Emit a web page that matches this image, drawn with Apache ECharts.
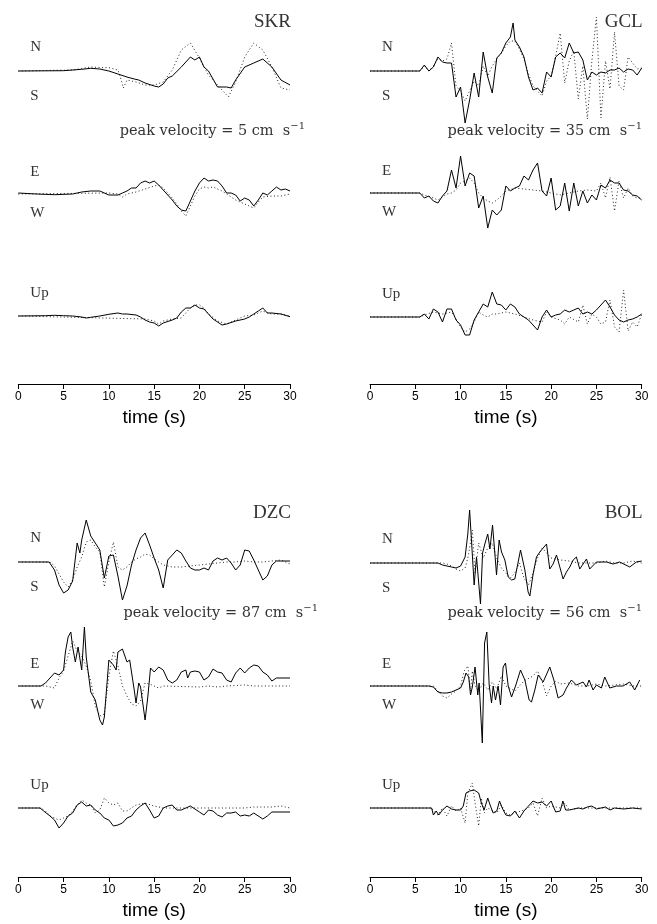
<!DOCTYPE html>
<html>
<head>
<meta charset="utf-8">
<script src="https://cdn.jsdelivr.net/npm/echarts@6/dist/echarts.min.js"></script>
<style>
  html, body { margin: 0; padding: 0; background: #fff; }
  #main { width: 657px; height: 924px; }
</style>
</head>
<body>
<div id="main"></div>
<script>
// time ticks (s)
var timeTicks = [0, 5, 10, 15, 20, 25, 30];
var stations = ['SKR', 'GCL', 'DZC', 'BOL'];
var peakVel = [5, 35, 87, 56];

// traces: [time (s), relative velocity], solid = data, dotted = synthetic
var skrNs = [[0,0],[5,0.3],[7,1.7],[8,2.7],[9,2],[10,0],[11,-3],[12,-6],[12.8,-8],[13,-7],[13.3,-9],[14,-12],[15,-15],[15.5,-16],[16,-13],[16.5,-7],[17,-5],[18,4],[19,14],[19.5,11],[20,14],[20.5,4],[21,0],[22,-16],[23,-16],[23.5,-17],[24,-9],[25,4],[26,8],[27,12],[28,4],[29,-9],[30,-14]];
var skrNsSyn = [[0,0],[6,1],[7,2.5],[8,4],[9,3.5],[10,3.3],[11,1],[11.4,-10],[11.6,-17],[12,-9],[13,-11],[14,-14],[15,-14],[16,-11],[17,1],[18,21],[19,28],[20,13],[20.5,4],[21,-4],[22,-14],[23.2,-26],[24,-11],[25,14],[26,28],[27,21],[28,4],[29,-17],[30,-19]];
var skrEw = [[0,1],[2,0],[4,-0.7],[6,0],[6.5,1],[7,2],[8,3],[9,3],[10,-1],[11,-1],[11.5,1],[12,3],[12.5,6],[13,6],[13.5,11],[14,13],[14.5,11],[15,13],[15.5,9],[16,4],[16.5,-1],[17,-6],[17.5,-12],[18,-16],[18.5,-17],[19,-7],[19.5,3],[20,11],[20.5,16],[21,13],[21.5,14],[22,13],[22.5,8],[23,1],[23.5,1],[24,-1],[24.5,-7],[25,-4],[25.5,-6],[26,-12],[26.5,-6],[27,1],[27.5,-1],[28,3],[28.5,7],[29,4],[29.5,5],[30,3]];
var skrEwSyn = [[0,0],[10,1],[11,0],[11.5,-3],[12,0],[13,2],[14,5],[15,8],[15.5,9],[16,6],[17,-4],[17.5,-10],[18,-17],[18.5,-22],[19,-12],[19.5,-2],[20,5],[20.5,7],[21,6],[21.5,7],[22,5],[22.5,3],[23,0],[24,-6],[25,-10],[25.5,-12],[26,-14],[26.5,-8],[27,-3],[28,-2],[29,-2],[30,0]];
var skrUp = [[0,0],[3,0.3],[4,0.7],[5,0.3],[6,0],[7,-1],[7.5,-2],[8,-1.3],[9,0],[10,1.7],[11,3],[11.5,2],[12,2],[13,1],[13.5,-1],[14,-4],[14.5,-6],[15,-7],[15.5,-10],[16,-7],[17,-4],[17.5,-2],[18,4],[18.5,8],[19,8],[19.5,11],[20,8],[20.5,7],[21,2],[21.5,-3],[22,-6],[22.5,-9],[23,-8],[24,-5],[25,-3],[25.5,-1],[26,2],[26.5,5],[27,8],[27.5,3],[28,3],[29,2],[30,-0.7]];
var skrUpSyn = [[0,0],[14,-3],[15,-5],[15.5,-8],[16,-5],[17,-3],[18,-2],[18.5,3],[19,8],[19.5,11],[20,11],[20.5,8],[21,2],[22,-5],[23,-8],[24,-4],[25,0],[26,1],[26.5,3],[27,5],[27.5,3],[28,2],[29,2],[30,0]];

var gclNs = [[0,0],[5.5,0],[6,6],[6.5,0],[7,4],[7.5,14],[8,9],[8.5,8],[9,8],[9.5,-26],[10,-16],[10.5,-52],[11,-29],[11.5,-2],[12,-26],[12.5,19],[13,-6],[13.5,-22],[14,13],[14.5,18],[15,28],[15.5,34],[15.8,48],[16,31],[16.5,24],[17,14],[17.5,-6],[18,-19],[18.5,-17],[19,-22],[19.5,-1],[20,-6],[20.5,14],[21,18],[21.5,13],[22,28],[22.5,18],[23,19],[23.5,11],[24,-9],[24.5,-1],[25,-4],[25.5,-1],[26,-2],[26.5,1],[27,1],[27.5,3],[28,-1],[28.5,2],[29,1],[29.5,-4],[30,3]];
var gclNsSyn = [[0,0],[5.5,0],[6,5],[6.5,0],[7,5],[7.5,12],[8,10],[8.5,12],[9,28],[9.5,-15],[10,-20],[10.5,-30],[11,-20],[11.5,-10],[12,-15],[12.5,5],[13,-5],[13.5,5],[14,12],[14.5,18],[15,25],[15.5,30],[16,30],[16.5,22],[17,12],[17.5,-3],[18,-15],[18.5,-20],[19,-25],[19.5,-10],[20,-5],[20.5,15],[21,38],[21.5,-12],[22,10],[22.5,20],[23,-28],[23.5,5],[24,-48],[24.5,10],[25,54],[25.5,-47],[26,10],[26.5,-18],[27,39],[27.5,-15],[28,-19],[28.5,14],[29,8],[29.5,2],[30,3]];
var gclEw = [[0,0],[5.5,0],[6,-5],[6.5,-3],[7,-8],[7.5,-10],[8,-3],[8.5,2],[9,23],[9.5,5],[10,37],[10.5,7],[11,20],[11.5,17],[12,-15],[12.5,-3],[13,-35],[13.5,-17],[14,-22],[14.5,-17],[15,7],[15.5,2],[16,5],[16.5,7],[17,17],[17.5,13],[18,23],[18.5,30],[19,2],[19.5,-3],[20,15],[20.5,-17],[21,-13],[21.5,10],[22,-18],[22.5,10],[23,-13],[23.5,2],[24,-10],[24.5,-2],[25,-7],[25.5,8],[26,5],[26.5,13],[27,10],[27.5,10],[28,3],[28.5,2],[29,-2],[29.5,-3],[30,-7]];
var gclEwSyn = [[0,0],[5.5,0],[6,-2],[7,-5],[7.5,-7],[8,-4],[8.5,-1],[9,0],[9.5,3],[10,10],[10.5,12],[11,15],[11.5,10],[12,0],[12.5,-5],[13,-8],[13.5,-10],[14,-7],[14.5,-3],[15,2],[16,5],[17,4],[18,3],[19,2],[20,0],[21,-2],[22,0],[23,2],[24,3],[25,2],[25.5,10],[26,-5],[26.5,16],[27,-18],[27.5,12],[28,-5],[28.5,5],[29,-3],[29.5,-5],[30,-5]];
var gclUp = [[0,0],[5.5,0],[6,3],[6.5,-2],[7,8],[7.5,5],[8,-5],[8.5,8],[9,8],[9.5,-3],[10,-8],[10.5,-18],[11,-18],[11.5,-3],[12,5],[12.5,13],[13,10],[13.5,25],[14,13],[14.5,12],[15,7],[15.5,13],[16,10],[16.5,3],[17,0],[17.5,-3],[18,-8],[18.5,-13],[19,0],[19.5,7],[20,0],[20.5,2],[21,3],[21.5,7],[22,5],[22.5,7],[23,9],[23.5,3],[24,5],[24.5,3],[25,7],[25.5,12],[26,17],[26.5,10],[27,2],[27.5,-3],[28,-5],[28.5,-3],[29,-2],[29.5,0],[30,3]];
var gclUpSyn = [[0,0],[5.5,0],[6,2],[7,5],[8,3],[9,5],[9.5,-2],[10,-10],[10.5,-15],[11,-12],[11.5,-5],[12,5],[12.5,2],[13,0],[13.5,3],[14,3],[15,5],[16,3],[17,0],[18,-3],[19,-5],[19.5,5],[20,0],[21,-3],[21.5,-7],[22,0],[23,-5],[23.5,12],[24,-7],[24.5,3],[25,0],[25.5,-7],[26,-5],[26.5,17],[27,-10],[27.5,-15],[28,27],[28.5,-14],[29,-5],[29.5,-10],[30,3]];

var dzcNs = [[0,0],[3.4,0],[4,-8],[4.5,-23],[5,-31],[5.5,-28],[6,-19],[6.5,19],[6.8,9],[7,22],[7.5,42],[8,26],[8.5,19],[9,12],[9.5,-16],[10,6],[10.5,7],[11,-14],[11.5,-38],[12,-24],[12.5,-3],[13,12],[13.5,24],[14,29],[14.5,17],[15,4],[15.5,-8],[16,-26],[16.5,2],[17,7],[17.5,12],[18,9],[18.5,1],[19,-6],[19.5,-8],[20,-8],[20.5,-6],[21,-8],[21.5,1],[22,4],[22.5,2],[23,4],[23.5,-1],[24,-8],[24.5,-3],[25,12],[25.5,11],[26,2],[26.5,-8],[27,-18],[27.5,-14],[28,-3],[28.5,1],[29,1],[30,1]];
var dzcNsSyn = [[0,0],[3.5,0],[4,-4],[4.5,-12],[5,-20],[5.5,-25],[6,-18],[6.5,-5],[7,5],[7.5,20],[8,22],[8.5,15],[9,10],[9.5,-25],[10,0],[10.5,20],[11,-5],[11.5,-8],[12,-5],[12.5,0],[13,3],[13.5,5],[14,8],[14.5,7],[15,3],[16,-3],[17,-5],[18,-5],[19,-4],[20,-3],[21,-2],[22,-1],[23,0],[24,0],[25,1],[26,0],[27,0],[28,1],[29,2],[30,-2]];
var dzcEw = [[0,0],[2.5,0],[3,3],[3.5,8],[4,13],[4.5,11],[5,16],[5.2,34],[5.5,49],[5.8,54],[6,39],[6.3,24],[6.6,39],[7,16],[7.3,59],[7.5,29],[8,-6],[8.5,-14],[9,-34],[9.3,-39],[9.5,-31],[10,26],[10.5,21],[10.8,16],[11,34],[11.5,37],[12,24],[12.3,26],[12.8,-4],[13,-17],[13.3,3],[13.5,-1],[14,-34],[14.3,-11],[14.6,18],[15,14],[15.5,19],[16,16],[16.5,6],[17,3],[17.5,6],[18,14],[18.5,16],[18.7,8],[19,14],[19.5,15],[20,14],[20.5,6],[21,9],[21.5,17],[22,14],[22.5,13],[23,6],[23.5,4],[24,13],[24.5,18],[25,13],[25.5,18],[26,21],[26.5,20],[27,14],[27.5,11],[28,5],[28.5,8],[29,8],[30,8]];
var dzcEwSyn = [[0,0],[3,0],[3.5,-1],[4,-2],[4.5,8],[5,15],[5.5,30],[6,45],[6.5,35],[7,30],[7.5,20],[8,5],[8.5,-20],[9,-30],[9.5,-28],[10,10],[10.5,35],[11,20],[11.5,0],[12,-10],[12.5,-18],[13,-20],[13.5,-15],[14,3],[14.5,2],[15,0],[15.5,-2],[16,0],[20,-1],[21,0],[22,-1],[23,0],[25,1],[26,0],[30,0]];
var dzcUp = [[0,0],[2.4,0],[2.6,2],[2.8,-3],[3.5,-8],[4,-12],[4.5,-20],[5,-15],[5.5,-8],[6,-5],[6.5,3],[7,6],[7.5,2],[8,3],[8.5,-2],[9,-5],[9.5,-10],[10,-12],[10.5,-18],[11,-17],[11.5,-15],[12,-10],[12.5,-8],[13,-2],[13.5,2],[14,5],[14.5,-2],[15,-10],[15.5,-8],[16,0],[16.5,2],[17,3],[17.5,-2],[18,-2],[18.5,0],[19,2],[19.5,-1],[20,-4],[20.5,-7],[21,-2],[21.5,-3],[22,-7],[22.5,-9],[23,-5],[23.5,-5],[24,-4],[24.5,-8],[25,-7],[25.5,-8],[26,-5],[27,-11],[27.5,-8],[28,-4],[29,-4],[30,-4]];
var dzcUpSyn = [[0,0],[2.5,0],[3,-3],[3.5,-8],[4,-10],[4.5,-12],[5,-10],[5.5,-8],[6,-3],[6.5,3],[7,8],[7.5,5],[8,3],[8.5,-5],[9,-2],[9.5,10],[10,5],[10.5,3],[11,5],[11.5,-3],[12,-3],[13,3],[14,5],[15,2],[16,0],[25,0],[26,1],[28,1],[29,2],[30,0]];

var bolNs = [[0,0],[7,0],[7.2,2],[7.5,0],[8,-2],[8.5,-3],[9,-4],[9.5,-5],[10,-3],[10.5,6],[10.8,29],[11,53],[11.25,16],[11.5,-22],[11.76,6],[12.2,-41],[12.43,10],[12.68,19],[13,29],[13.24,14],[13.53,38],[13.79,9],[13.97,-12],[14.26,23],[14.52,11],[14.89,3],[15.26,-14],[15.63,-17],[15.99,-16],[16.36,1],[16.62,13],[17.1,-7],[17.46,-29],[17.65,-33],[18.01,-11],[18.38,6],[18.75,11],[19.49,19],[19.85,-6],[20.22,-1],[20.59,8],[20.96,-4],[21.32,-16],[21.69,-9],[22.06,-4],[22.43,3],[22.79,6],[23.16,-6],[23.9,4],[24.26,-6],[25,1],[26.1,1],[26.84,-1],[27.57,1],[28.68,-4],[29.41,1],[30,2]];
var bolNsSyn = [[0,0],[8,0],[8.5,-1],[9,-3],[9.5,-6],[10,-8],[10.5,-5],[10.8,5],[11,15],[11.3,33],[11.6,-10],[12,20],[12.5,5],[13,15],[13.5,20],[14,5],[14.5,-5],[15,-10],[15.5,-15],[16,-10],[16.5,0],[17,-15],[17.5,-22],[18,-10],[18.5,5],[19,15],[19.5,10],[20,5],[21,3],[22,2],[23,0],[25,0],[26,2],[27,0],[28,0],[29,2],[30,0]];
var bolEw = [[0,0],[6.5,0],[7,-1],[7.5,-6],[8,-7],[8.5,-7],[9,-6],[9.5,-4],[10,-2],[10.3,4],[10.6,13],[10.9,9],[11.1,-9],[11.3,-1],[11.6,19],[11.9,-9],[12.05,3],[12.4,-57],[12.65,43],[12.9,54],[13.16,1],[13.42,-17],[13.6,0],[13.86,-14],[14.15,0],[14.41,-19],[14.7,19],[14.96,23],[15.26,0],[15.63,-11],[16.07,0],[16.62,16],[17.1,6],[17.57,-14],[17.83,-16],[18.2,-4],[18.57,11],[19.12,4],[19.85,19],[20.3,6],[20.77,-12],[21.32,-9],[21.69,-2],[22.24,6],[22.79,1],[23.53,4],[23.9,-1],[24.19,6],[24.63,-4],[25,1],[25.55,-2],[25.92,9],[26.47,-2],[27.21,0],[27.94,0],[28.68,4],[29.23,-4],[29.78,6]];
var bolEwSyn = [[0,0],[7,0],[7.5,-5],[8,-10],[8.5,-12],[9,-8],[9.5,-5],[10,0],[10.4,15],[10.8,20],[11.1,-5],[11.3,15],[11.6,0],[12,-5],[12.5,3],[13,-4],[13.5,4],[14,-3],[14.5,10],[15,0],[16,-5],[17,5],[18,10],[18.5,15],[19,5],[19.5,-10],[20,0],[20.5,5],[21,2],[22,3],[23,0],[24,0],[25,2],[26,0],[27,1],[28,2],[29,0],[30,0]];
var bolUp = [[0,0],[6.8,0],[7,-7],[7.3,-3],[7.6,-7],[8,-2],[8.5,2],[9,-1],[9.5,-2],[10,-2],[10.3,2],[10.6,15],[11,17],[11.5,18],[12,15],[12.3,5],[12.6,-2],[13,10],[13.3,2],[13.6,-5],[14,-3],[14.3,7],[14.6,0],[15,-7],[15.5,-8],[16,-3],[16.5,-10],[17,-3],[17.5,2],[18,7],[18.5,5],[19,6],[19.5,2],[20,7],[20.5,-4],[21,-3],[21.3,7],[21.6,-2],[22,-2],[22.5,-1],[23,0],[23.5,-1],[24,1],[24.5,2],[25,-1],[25.5,0],[26,1],[26.5,-2],[27,0],[28,-1],[29,0],[30,-1]];
var bolUpSyn = [[0,0],[6.8,0],[7,-3],[7.5,-7],[8,0],[8.5,-8],[9,2],[9.5,-3],[10,0],[10.5,-15],[10.8,15],[11.3,25],[11.6,5],[12,-18],[12.3,10],[12.6,-5],[13,0],[14,-5],[14.5,3],[15,-5],[15.5,-7],[16,-5],[17,-2],[17.5,0],[18,5],[18.5,-8],[19,10],[19.5,0],[20,2],[21,0],[21.5,5],[22,-2],[23,0],[30,0]];

var traces = [
  [[skrNs, skrNsSyn], [skrEw, skrEwSyn], [skrUp, skrUpSyn]],
  [[gclNs, gclNsSyn], [gclEw, gclEwSyn], [gclUp, gclUpSyn]],
  [[dzcNs, dzcNsSyn], [dzcEw, dzcEwSyn], [dzcUp, dzcUpSyn]],
  [[bolNs, bolNsSyn], [bolEw, bolEwSyn], [bolUp, bolUpSyn]]
];

// panel layout
var panelLeft = [18.3, 370, 18.3, 370];
var panelW = 271.7;
var baseY = [[71, 194, 316], [71, 193, 317], [562, 686, 808], [563, 686, 808]];
var axisY = [384, 384, 877, 877];
var panelTop = [0, 0, 491, 491];
var half = 65;

var chart = echarts.init(document.getElementById('main'));
var grid = [], xAxis = [], yAxis = [], series = [];
var serif = '"Liberation Serif", "DejaVu Serif", serif';
var wideSerif = '"DejaVu Serif", serif';

for (var p = 0; p < 4; p++) {
  for (var c = 0; c < 3; c++) {
    var gi = grid.length;
    grid.push({left: panelLeft[p], top: baseY[p][c] - half, width: panelW, height: half * 2});
    xAxis.push({gridIndex: gi, type: 'value', min: 0, max: 30, show: false});
    yAxis.push({gridIndex: gi, type: 'value', min: -half, max: half, show: false});
    series.push({
      type: 'line', xAxisIndex: gi, yAxisIndex: gi, data: traces[p][c][1],
      showSymbol: false, silent: true,
      lineStyle: {color: '#222', width: 1, type: [1, 2.5]}
    });
    series.push({
      type: 'line', xAxisIndex: gi, yAxisIndex: gi, data: traces[p][c][0],
      showSymbol: false, silent: true,
      lineStyle: {color: '#000', width: 1}
    });
  }
  // time axis
  var ai = grid.length;
  grid.push({left: panelLeft[p], top: axisY[p], width: panelW, height: 0});
  xAxis.push({
    gridIndex: ai, type: 'value', min: 0, max: 30, interval: 5, position: 'bottom',
    name: 'time (s)', nameLocation: 'middle', nameGap: 24,
    nameTextStyle: {fontSize: 19, color: '#000', fontFamily: 'Liberation Sans'},
    axisLine: {show: true, onZero: false, lineStyle: {color: '#000', width: 1}},
    axisTick: {show: true, inside: false, length: 5, lineStyle: {color: '#000'}},
    axisLabel: {show: true, color: '#000', fontSize: 12, margin: 7, fontFamily: 'Liberation Sans'},
    splitLine: {show: false}
  });
  yAxis.push({gridIndex: ai, type: 'value', min: 0, max: 1, show: false});
}

// labels
var graphic = [];
function txt(x, y, s, size, align, font, rich) {
  graphic.push({
    type: 'text', x: x, y: y,
    style: {text: s, fontSize: size, fontFamily: font || serif, fill: '#333',
      align: align || 'left', verticalAlign: 'middle', rich: rich}
  });
}
var pvRich = {sup: {fontSize: 10, fontFamily: wideSerif, verticalAlign: 'top', padding: [0, 0, 9, 0], fill: '#333'}};
var pvRight = [305, 642, 318, 642];
for (var p = 0; p < 4; p++) {
  var lx = panelLeft[p] + 12;
  var rEdge = panelLeft[p] + panelW;
  txt(rEdge + 1, panelTop[p] + 22, stations[p], 19, 'right');
  txt(lx, baseY[p][0] - 24, 'N', 15);
  txt(lx, baseY[p][0] + 25, 'S', 15);
  txt(lx, baseY[p][1] - 22, 'E', 15);
  txt(lx, baseY[p][1] + 19, 'W', 15);
  txt(lx, baseY[p][2] - 23, 'Up', 15);
  txt(pvRight[p], panelTop[p] + 131 + (p >= 2 ? -9 : 0), 'peak velocity = ' + peakVel[p] + ' cm  s{sup|\u22121}', 14.5, 'right', wideSerif, pvRich);
}

chart.setOption({
  animation: false,
  backgroundColor: '#fff',
  grid: grid,
  xAxis: xAxis,
  yAxis: yAxis,
  series: series,
  graphic: graphic
});
</script>
</body>
</html>
